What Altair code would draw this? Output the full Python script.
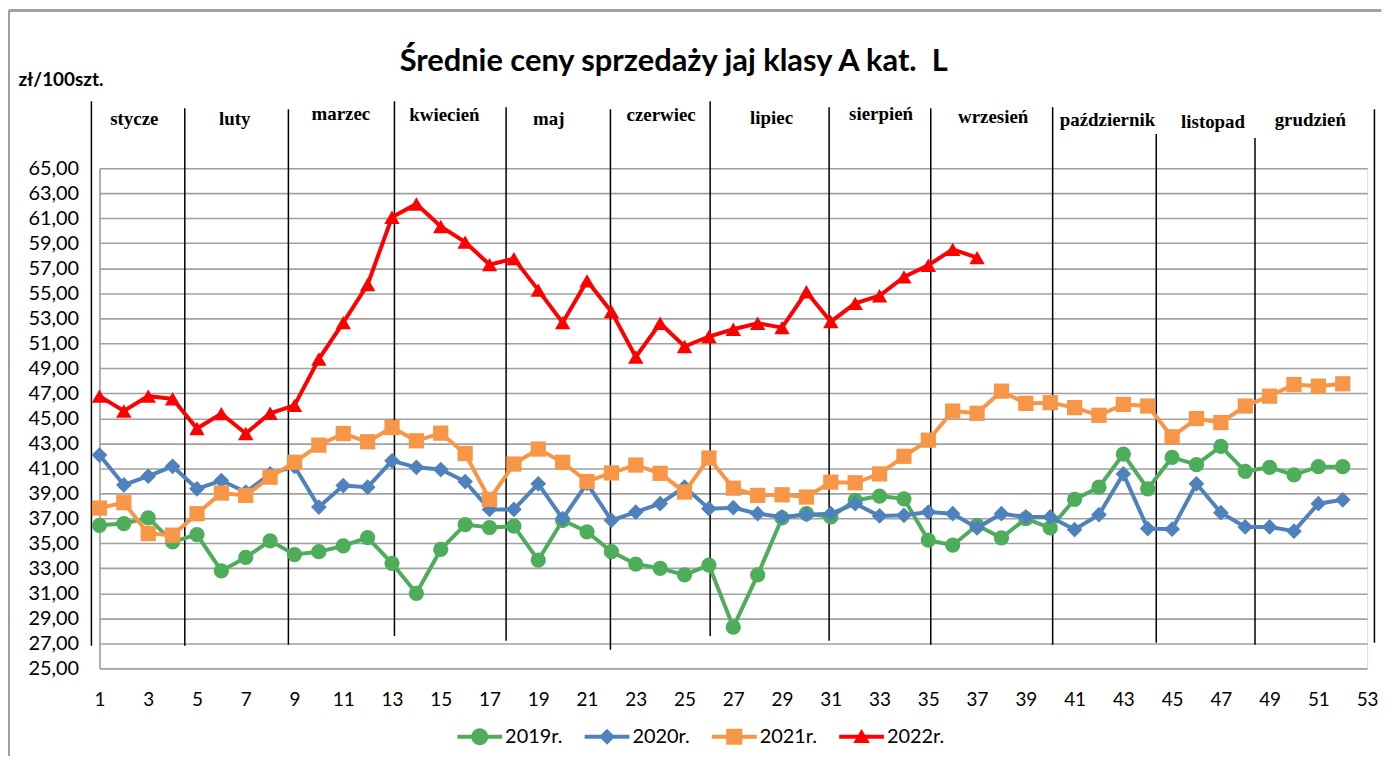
import altair as alt
import pandas as pd

# ---------------- data ----------------
weeks = list(range(1, 53))

y2019 = [36.44, 36.58, 37.03, 35.12, 35.70, 32.79, 33.87, 35.20, 34.10, 34.33,
         34.80, 35.46, 33.40, 31.00, 34.51, 36.50, 36.26, 36.37, 33.66, 36.84,
         35.92, 34.33, 33.34, 33.00, 32.47, 33.26, 28.29, 32.47, 37.03, 37.37,
         37.11, 38.43, 38.78, 38.56, 35.25, 34.85, 36.44, 35.44, 36.97, 36.23,
         38.51, 39.49, 42.14, 39.36, 41.87, 41.29, 42.75, 40.76, 41.08, 40.47,
         41.13, 41.13]

y2020 = [42.06, 39.67, 40.37, 41.16, 39.36, 40.02, 39.10, 40.55, 41.16, 37.90,
         39.62, 39.49, 41.60, 41.08, 40.90, 39.94, 37.71, 37.71, 39.76, 36.97,
         39.80, 36.84, 37.50, 38.17, 39.50, 37.77, 37.85, 37.37, 37.11, 37.29,
         37.37, 38.17, 37.19, 37.24, 37.50, 37.37, 36.23, 37.37, 37.11, 37.11,
         36.10, 37.29, 40.55, 36.18, 36.13, 39.76, 37.45, 36.31, 36.31, 35.97,
         38.17, 38.48]

y2021 = [37.82, 38.25, 35.78, 35.65, 37.37, 39.02, 38.83, 40.29, 41.48, 42.85,
         43.78, 43.12, 44.26, 43.20, 43.81, 42.18, 38.51, 41.34, 42.54, 41.48,
         39.94, 40.63, 41.26, 40.60, 39.10, 41.82, 39.41, 38.83, 38.88, 38.70,
         39.89, 39.84, 40.55, 41.96, 43.25, 45.58, 45.40, 47.17, 46.19, 46.25,
         45.85, 45.24, 46.11, 45.98, 43.52, 44.98, 44.66, 45.98, 46.77, 47.70,
         47.57, 47.76]

y2022 = [46.77, 45.58, 46.77, 46.56, 44.18, 45.37, 43.78, 45.40, 46.03, 49.74,
         52.65, 55.70, 61.08, 62.14, 60.34, 59.09, 57.29, 57.77, 55.25, 52.65,
         55.99, 53.53, 49.90, 52.60, 50.74, 51.54, 52.12, 52.60, 52.25, 55.12,
         52.73, 54.19, 54.80, 56.31, 57.24, 58.51, 57.85]

years = ["2019r.", "2020r.", "2021r.", "2022r."]
series = [y2019, y2020, y2021, y2022]

months = ["stycze", "luty", "marzec", "kwiecień", "maj", "czerwiec", "lipiec",
          "sierpień", "wrzesień", "październik", "listopad", "grudzień"]
month_x = [2.43, 6.55, 10.9, 15.15, 19.43, 24.04, 28.57, 33.06, 37.66, 42.35, 46.68, 50.67]
month_y = [68.92, 68.92, 69.32, 69.24, 68.92, 69.24, 69.0, 69.32, 69.08, 68.84, 68.68, 68.84]

sep_x = [0.67, 4.5, 8.75, 13.1, 17.68, 21.96, 26.05, 30.93, 35.1, 40.1, 44.35, 48.4, 53.3]
sep_top = [70.35, 69.79, 69.71, 70.35, 69.87, 69.71, 70.35, 69.87, 69.79, 69.87, 67.73, 67.41, 69.71]
sep_bottom = [26.80, 26.80, 26.88, 27.59, 27.20, 26.48, 27.59, 27.20, 26.88, 26.88, 27.04, 26.88, 27.04]

y_ticks = list(range(25, 66, 2))
x_ticks = list(range(1, 54, 2))

title_text = "Średnie ceny sprzedaży jaj klasy A kat. \u00a0L"

# ---------------- styling ----------------
colors = ["#4EAD5B", "#4F81BD", "#F79646", "#FF0000"]
shapes = ["circle", "diamond", "square", "triangle-up"]
marker_sizes = [235, 250, 235, 240]
legend_paths = [
    "M-1,-0.09H1V0.09H-1Z M-0.38,0A0.38,0.38 0 1,1 0.38,0A0.38,0.38 0 1,1 -0.38,0Z",
    "M-1,-0.09H1V0.09H-1Z M0,-0.36L0.36,0L0,0.36L-0.36,0Z",
    "M-1,-0.09H1V0.09H-1Z M-0.36,-0.36H0.36V0.36H-0.36Z",
    "M-1,-0.09H1V0.09H-1Z M0,-0.34L0.37,0.28H-0.37Z",
]

rows = []
for yr, vals in zip(years, series):
    for w, v in zip(weeks, vals):
        rows.append({"week": w, "price": v, "year": yr})
df = pd.DataFrame(rows)

sep_df = pd.DataFrame({"week": sep_x, "price": sep_top, "bottom": sep_bottom})
mon_df = pd.DataFrame({"week": month_x, "price": month_y, "label": months})

x_scale = alt.Scale(domain=[1, 53], nice=False, zero=False)
y_scale = alt.Scale(domain=[25, 65], nice=False, zero=False)

x_axis = alt.Axis(
    values=x_ticks, title=None, grid=False, ticks=False, domain=False,
    labelPadding=22, labelFontSize=19, labelFont="Lato", labelColor="#000000",
    labelFlush=False, labelOverlap=False)
y_axis = alt.Axis(
    values=y_ticks, title="zł/100szt.", grid=True, gridColor="#A0A0A0", gridWidth=1.6,
    ticks=False, domain=True, domainColor="#A0A0A0", domainWidth=1.6,
    labelExpr="replace(format(datum.value, '.2f'), '.', ',')", labelOverlap=False,
    labelPadding=21, labelFontSize=20, labelFont="Lato", labelColor="#000000",
    titleAngle=0, titleAlign="left", titleBaseline="middle", titleX=-82, titleY=-89,
    titleFont="Lato", titleFontSize=19, titleFontWeight="bold", titleColor="#000000")

X = alt.X("week:Q", scale=x_scale, axis=x_axis)
Y = alt.Y("price:Q", scale=y_scale, axis=y_axis)

base = alt.Chart(df)

series_layers = []
for i, yr in enumerate(years):
    sub = base.transform_filter(alt.datum.year == yr)
    ln = sub.mark_line(strokeWidth=4, color=colors[i]).encode(x=X, y=Y)
    pt = sub.mark_point(filled=True, opacity=1, shape=shapes[i], size=marker_sizes[i],
                        color=colors[i]).encode(x=X, y=Y)
    series_layers += [ln, pt]

leg = alt.Legend(title=None, orient="none", direction="horizontal", legendX=360, legendY=549,
                 symbolSize=2025, symbolOpacity=1, symbolStrokeWidth=0,
                 labelFont="Lato", labelFontSize=20, labelColor="#000000", labelOffset=3,
                 columnPadding=22, columns=4)

legend_layer = base.mark_point(filled=True, opacity=0, size=10).encode(
    x=X, y=Y,
    color=alt.Color("year:N", scale=alt.Scale(domain=years, range=colors), legend=leg),
    shape=alt.Shape("year:N", scale=alt.Scale(domain=years, range=legend_paths), legend=leg),
)

seps = alt.Chart(sep_df).mark_rule(color="#000000", strokeWidth=1.5).encode(
    x=X, y=Y, y2="bottom:Q")

mon_text = alt.Chart(mon_df).mark_text(
    font="Liberation Serif", fontWeight="bold", fontSize=19, color="#000000",
    baseline="middle", align="center").encode(x=X, y=Y, text="label:N")

frame_top = alt.Chart(sep_df).mark_rule(color="#A0A0A0", strokeWidth=2).encode(
    x=alt.value(-91), x2=alt.value(1289), y=alt.value(-159))
frame_left = alt.Chart(sep_df).mark_rule(color="#A0A0A0", strokeWidth=2).encode(
    x=alt.value(-91), y=alt.value(-159), y2=alt.value(600))

chart = alt.layer(
    seps, *series_layers, legend_layer, mon_text, frame_top, frame_left
).properties(
    width=1275, height=503,
    title=alt.Title(title_text, font="Lato",
                    fontSize=31, fontWeight="bold", color="#000000",
                    anchor="middle", frame="group", dx=-60, offset=-69),
    padding={"left": 92, "top": 159, "right": 22, "bottom": 86},
    autosize=alt.AutoSizeParams(type="none"),
).configure_view(stroke=None).configure(background="white")

chart.save("out.html", embed_options={"renderer": "svg", "actions": False})
